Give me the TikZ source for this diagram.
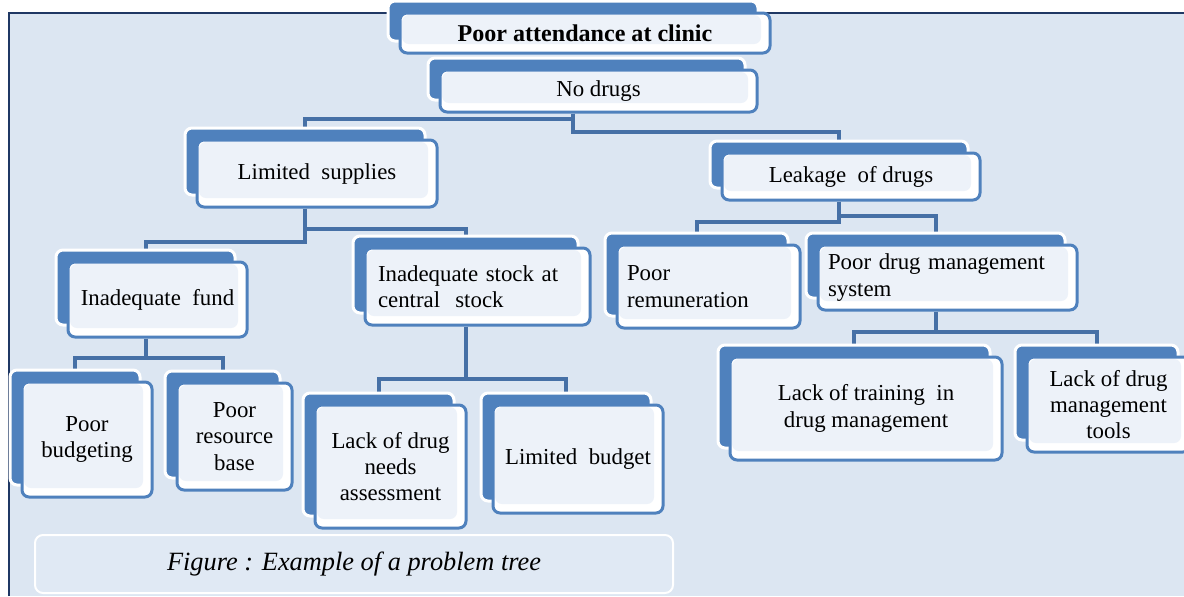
\documentclass[tikz,border=0pt]{standalone}
\usepackage{fontspec}
\setmainfont{Liberation Serif}
\usetikzlibrary{shadows,calc}

\newlength{\pxu}
\setlength{\pxu}{0.02cm}
\definecolor{bgblue}{HTML}{DCE6F2}
\definecolor{boxblue}{HTML}{4F81BD}
\definecolor{boxfill}{HTML}{EDF2F9}
\definecolor{linkblue}{HTML}{4670A6}
\definecolor{framenavy}{HTML}{1F3864}
\pgfdeclarelayer{bottom}
\pgfdeclarelayer{background}
\pgfsetlayers{bottom,background,main}

\tikzset{
  probbox/.style={draw=boxblue, line width=3\pxu, fill=white,
    rounded corners=7\pxu, inner sep=0pt, align=center,
    font=\fontsize{13}{15}\selectfont,
    path picture={\fill[boxfill]
      ([shift={(2\pxu,-2\pxu)}]path picture bounding box.north west) rectangle
      ([shift={(-9\pxu,9\pxu)}]path picture bounding box.south east);},
    copy shadow={shadow xshift=-12\pxu, shadow yshift=12\pxu,
      fill=boxblue, draw=white, line width=3\pxu}},
  leftbox/.style={probbox, align=left},
  link/.style={draw=linkblue, line width=4\pxu},
  capbox/.style={draw=white, line width=2\pxu, fill=bgblue!88!white,
    rounded corners=8\pxu, inner sep=0pt,
    font=\fontsize{15}{18}\selectfont\itshape}
}

\begin{document}
\begin{tikzpicture}[x=0.02cm, y=-0.02cm]
  \useasboundingbox (0,0) rectangle (1184,596);
  \begin{pgfonlayer}{bottom}
    \fill[white] (0,0) rectangle (1184,596);
    \fill[bgblue] (9,13) rectangle (1184,596);
    \draw[framenavy, line width=2\pxu] (9,596) -- (9,13) -- (1184,13);
  \end{pgfonlayer}

  % top of the tree
  \node[probbox, minimum width=370\pxu, minimum height=40\pxu] (top) at (585,33)
    {\fontsize{13.7}{15}\selectfont\bfseries Poor attendance at clinic};
  \node[probbox, minimum width=317\pxu, minimum height=42\pxu] (nodrugs) at (598.5,91)
    {No drugs};

  % second level
  \node[probbox, minimum width=240\pxu, minimum height=67\pxu] (limsup) at (317,173.5)
    {Limited~ supplies};
  \node[probbox, minimum width=258\pxu, minimum height=47\pxu] (leak) at (851,176.5)
    {Leakage~ of drugs};

  % third level
  \node[probbox, minimum width=179\pxu, minimum height=75\pxu] (inadfund) at (157.5,299.5)
    {Inadequate~ fund};
  \node[leftbox, text width=199\pxu, minimum width=225\pxu, minimum height=77\pxu] (inadstock) at (477.5,286.5)
    {Inadequate stock at\\central~ stock};
  \node[leftbox, text width=163\pxu, minimum width=183\pxu, minimum height=83\pxu] (remun) at (708.5,286.5)
    {Poor\\remuneration};
  \node[leftbox, text width=239\pxu, minimum width=259\pxu, minimum height=65\pxu] (pdms) at (947.5,277.5)
    {Poor drug management\\system};

  % bottom level
  \node[probbox, minimum width=130\pxu, minimum height=115\pxu] (budgeting) at (87,439.5)
    {Poor\\budgeting};
  \node[probbox, minimum width=115\pxu, minimum height=107\pxu] (resource) at (234.5,436.5)
    {Poor\\resource\\base};
  \node[probbox, minimum width=151\pxu, minimum height=123\pxu] (needs) at (390.5,466.5)
    {Lack of drug\\needs\\assessment};
  \node[probbox, minimum width=170\pxu, minimum height=108\pxu] (budget) at (578,459)
    {Limited~ budget};
  \node[probbox, minimum width=272\pxu, minimum height=103\pxu] (training) at (866,408.5)
    {Lack of training~ in\\drug management};
  \node[probbox, minimum width=163\pxu, minimum height=95\pxu] (tools) at (1108.5,404.5)
    {Lack of drug\\management\\tools};

  \node[capbox, minimum width=638\pxu, minimum height=58\pxu] (cap) at (354,564)
    {Figure : Example of a problem tree};

  % connectors
  \begin{pgfonlayer}{background}
    \path (top.south) ++(-12,0) coordinate (topc);
    \path (limsup.south) ++(-12,0) coordinate (limc);
    \path (inadfund.south) ++(-12,0) coordinate (fundc);
    \path (inadstock.south) ++(-12,0) coordinate (stockc);
    \path (leak.south) ++(-12,0) coordinate (leakc);
    \path (pdms.south) ++(-12,0) coordinate (pdmsc);

    \draw[link] (topc |- nodrugs.south) -- ++(0,5) -| ($(limsup.north)+(-12,0)$);
    \draw[link] (topc |- nodrugs.south) -- ++(0,18) -| ($(leak.north)+(-12,0)$);

    \draw[link] (limc) -- ++(0,33) -| ($(inadfund.north)+(-12,0)$);
    \draw[link] (limc) -- ++(0,20) -| ($(inadstock.north)+(-12,0)$);

    \draw[link] (fundc) -- ++(0,19) -| ($(budgeting.north)+(-12,0)$);
    \draw[link] (fundc) -- ++(0,19) -| ($(resource.north)+(-12,0)$);

    \draw[link] (stockc) -- ++(0,52) -| ($(needs.north)+(-12,0)$);
    \draw[link] (stockc) -- ++(0,52) -| ($(budget.north)+(-12,0)$);

    \draw[link] (leakc) -- ++(0,20) -| ($(remun.north)+(-12,0)$);
    \draw[link] (leakc) -- ++(0,14) -| ($(pdms.north)+(-12,0)$);

    \draw[link] (pdmsc) -- ++(0,20) -| ($(training.north)+(-12,0)$);
    \draw[link] (pdmsc) -- ++(0,20) -| ($(tools.north)+(-12,0)$);
  \end{pgfonlayer}
\end{tikzpicture}
\end{document}
